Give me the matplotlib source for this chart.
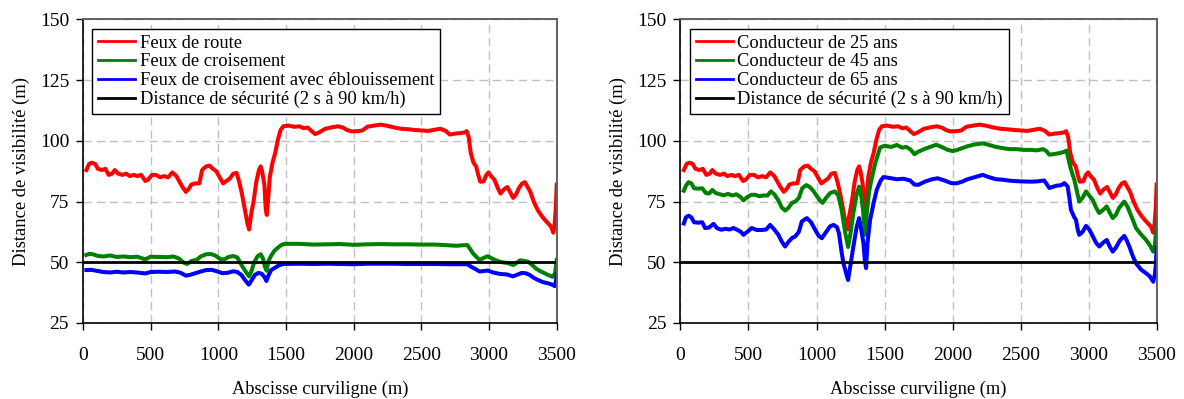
import matplotlib
matplotlib.use("Agg")
import matplotlib.pyplot as plt

# ---- data (abscisse en m, distance en m) ----
x_route = [25, 45, 65, 90, 110, 140, 165, 190, 215, 235, 260, 290, 320, 345, 375, 400, 430, 460, 480,
           510, 540, 570, 600, 630, 660, 690, 710, 735, 760, 785, 800, 830, 860, 880, 910, 935, 960,
           985, 1010, 1035, 1060, 1085, 1110, 1135, 1155, 1175, 1195, 1215, 1228, 1240, 1260, 1280,
           1300, 1313, 1325, 1340, 1350, 1358, 1368, 1380, 1400, 1420, 1440, 1460, 1480, 1520, 1560,
           1600, 1630, 1660, 1690, 1715, 1745, 1790, 1840, 1885, 1920, 1950, 1985, 2030, 2065, 2100,
           2150, 2200, 2250, 2300, 2350, 2400, 2450, 2500, 2550, 2600, 2640, 2680, 2710, 2750, 2790,
           2820, 2835, 2850, 2865, 2885, 2905, 2920, 2935, 2960, 2980, 2995, 3015, 3040, 3065, 3085,
           3110, 3135, 3155, 3178, 3200, 3220, 3245, 3265, 3285, 3305, 3330, 3360, 3390, 3415, 3440,
           3460, 3475, 3485, 3493, 3500]
feux_route = [88, 90.5, 91, 90.5, 88.5, 88, 88.5, 86, 86.5, 88, 86.5, 86, 86.5, 85.5, 86, 85.5, 86, 83.5,
              84, 86, 86, 85, 85.5, 85, 87, 85.5, 83.5, 81, 79, 80.5, 82, 82.5, 82.5, 88, 89.5, 89.8,
              88.5, 87.5, 85, 82.5, 83.5, 84.5, 86.5, 86.8, 83, 78, 72, 66, 63.5, 69, 75, 83, 88, 89.5,
              87, 82, 72, 69.5, 76, 85, 91, 95, 100.5, 104.5, 106, 106.3, 105.8, 106, 105.2, 105.5, 104,
              102.8, 103.5, 105, 105.6, 106, 105.5, 104.5, 103.9, 104, 104.3, 105.8, 106.3, 106.7, 106.2,
              105.5, 105, 104.8, 104.5, 104.3, 104.1, 104.6, 105, 104.1, 102.6, 103, 103.2, 103.5, 104,
              101.5, 95, 91, 89.5, 86, 83.2, 83.3, 86, 87, 85.5, 84, 80.5, 78.3, 80, 81, 79, 76.5, 78,
              80.5, 82.5, 83, 81, 79, 75, 71.5, 69, 67.3, 65.8, 64.5, 62.2, 66, 72, 82]

x_crois = [25, 50, 80, 110, 155, 200, 250, 300, 350, 400, 460, 500, 560, 620, 670, 710, 745, 770, 800,
           840, 870, 910, 945, 980, 1015, 1045, 1075, 1110, 1140, 1165, 1185, 1210, 1228, 1245, 1265,
           1290, 1313, 1330, 1345, 1357, 1370, 1390, 1415, 1440, 1465, 1490, 1600, 1700, 1800, 1900,
           2000, 2100, 2200, 2300, 2400, 2500, 2600, 2700, 2760, 2800, 2840, 2860, 2880, 2905, 2930,
           2960, 2990, 3020, 3050, 3080, 3110, 3140, 3160, 3180, 3205, 3230, 3260, 3290, 3320, 3350,
           3380, 3410, 3440, 3470, 3488, 3500]
feux_crois = [53, 53.5, 53.2, 52.6, 52.4, 52.8, 52.2, 52.4, 52.1, 52.3, 51.2, 52.3, 52.2, 52.1, 52.4,
              51.5, 49.8, 49.3, 50.5, 51, 52.4, 53.3, 53.4, 52.7, 51.3, 51.2, 52.2, 52.6, 52, 49.5, 47.6,
              45.5, 44.2, 46.5, 50, 52.5, 53.3, 51.5, 48, 46.5, 50.5, 52.7, 54.8, 56, 57.1, 57.6, 57.6,
              57.3, 57.4, 57.5, 57.2, 57.4, 57.5, 57.4, 57.4, 57.3, 57.3, 57.0, 56.8, 57.0, 57.1, 55.5,
              53.8, 52.3, 51, 51.8, 52.5, 51.6, 50.8, 50.2, 49.9, 49.7, 49.2, 48.9, 49.8, 50.8, 50.6,
              50.2, 48.8, 47.3, 46.3, 45.5, 44.7, 44, 45.5, 51]

x_ebl = [25, 60, 100, 150, 200, 250, 300, 350, 400, 460, 500, 560, 620, 680, 720, 760, 790, 830, 870,
         910, 950, 990, 1030, 1070, 1110, 1140, 1170, 1200, 1225, 1245, 1270, 1295, 1320, 1340, 1355,
         1370, 1390, 1420, 1450, 1480, 1600, 1700, 1800, 1900, 2000, 2100, 2200, 2300, 2400, 2500,
         2600, 2700, 2800, 2840, 2870, 2900, 2930, 2960, 2990, 3030, 3080, 3130, 3177, 3210, 3240,
         3270, 3300, 3330, 3362, 3400, 3440, 3470, 3485, 3495, 3500]
feux_ebl = [46.8, 46.9, 46.5, 46, 45.8, 46.1, 45.8, 46, 45.8, 45.4, 46, 46.1, 46, 46.2, 45.7, 44.5, 44.8,
            45.5, 46.2, 46.8, 46.9, 46.3, 45.5, 45.7, 46.3, 46, 44.8, 42.5, 40.8, 42.5, 44.8, 45.6, 45.3,
            44, 42.3, 44.5, 46.8, 47.8, 48.8, 49.3, 49.4, 49.3, 49.4, 49.3, 49.2, 49.4, 49.4, 49.4, 49.3,
            49.3, 49.3, 49.2, 49.2, 49.2, 48.1, 47.2, 46.2, 46.4, 46.6, 45.8, 45.2, 45, 44.2, 44.9, 45.6,
            45.5, 44.8, 43.6, 42.7, 41.8, 41.3, 40.7, 40.2, 42.5, 45]

x_45 = [25, 40, 60, 80, 100, 130, 160, 185, 210, 235, 260, 290, 320, 350, 380, 410, 440, 463, 490, 520,
        550, 580, 610, 640, 665, 690, 720, 745, 770, 795, 820, 845, 870, 895, 925, 950, 975, 1000, 1025,
        1045, 1070, 1100, 1135, 1160, 1185, 1210, 1232, 1250, 1271, 1295, 1313, 1330, 1342, 1352, 1359,
        1370, 1385, 1400, 1430, 1467, 1500, 1550, 1590, 1630, 1660, 1690, 1720, 1750, 1800, 1850, 1880,
        1920, 1960, 2000, 2030, 2070, 2110, 2160, 2222, 2270, 2320, 2370, 2420, 2470, 2520, 2570, 2620,
        2665, 2690, 2711, 2750, 2790, 2820, 2838, 2858, 2877, 2895, 2915, 2931, 2955, 2981, 3005, 3030,
        3055, 3078, 3105, 3133, 3155, 3177, 3200, 3225, 3262, 3285, 3300, 3325, 3348, 3385, 3422, 3450,
        3475, 3487, 3494, 3500]
cond_45 = [79.5, 81.5, 83, 82.5, 80.5, 80.3, 80.5, 78.6, 78.3, 79.8, 78.5, 78, 77.6, 78.2, 77.5, 78, 77,
           75.5, 76.8, 77.8, 77.8, 77.2, 77.5, 77.5, 79.2, 78, 75.5, 72.5, 71.3, 72.5, 74.5, 75, 76.5,
           80.5, 81.8, 81, 79.5, 77.5, 75.5, 74.5, 76.5, 78.5, 79.2, 77.5, 71.6, 62.5, 56.3, 62, 70.3, 78,
           81.2, 77, 71.5, 64, 61.3, 70.5, 78.5, 83, 90.5, 97.2, 98, 97.5, 98.3, 97.2, 97.5, 96.5, 94.5,
           95.6, 96.8, 97.8, 98.4, 97.5, 96.4, 95.8, 96.2, 97, 97.8, 98.5, 99, 98.3, 97.5, 97, 96.6, 96.6,
           96.3, 96.3, 96.1, 96.6, 95.8, 94.3, 94.6, 95, 95.5, 96, 91, 87, 84, 79, 75, 76.5, 79.2, 77.5,
           75.7, 72.5, 70.3, 71.5, 73, 70.5, 68.2, 69.5, 72.5, 75, 73, 70.9, 67.5, 64.1, 61.5, 59.2, 57,
           54.4, 57, 61.3, 67]

x_65 = [25, 40, 60, 80, 100, 130, 160, 181, 210, 243, 270, 300, 330, 360, 390, 420, 445, 463, 490, 524,
        560, 600, 630, 659, 690, 720, 745, 769, 795, 820, 843, 870, 892, 929, 960, 990, 1015, 1039, 1065,
        1100, 1125, 1150, 1165, 1185, 1198, 1215, 1232, 1250, 1271, 1295, 1313, 1330, 1345, 1355, 1364,
        1375, 1394, 1418, 1443, 1470, 1492, 1540, 1590, 1640, 1688, 1720, 1749, 1800, 1850, 1890, 1940,
        1990, 2030, 2070, 2110, 2160, 2222, 2270, 2320, 2370, 2420, 2470, 2516, 2570, 2620, 2674, 2711,
        2760, 2800, 2822, 2846, 2860, 2870, 2895, 2907, 2920, 2931, 2955, 2981, 3005, 3030, 3055, 3078,
        3105, 3133, 3155, 3177, 3200, 3230, 3262, 3280, 3299, 3325, 3348, 3385, 3422, 3450, 3475, 3487,
        3494, 3500]
cond_65 = [66, 68.5, 69.2, 68.5, 66.5, 66.3, 66.5, 64.1, 64.3, 65.8, 64, 63.4, 63.8, 63.5, 64.1, 63.3,
           62.5, 61.3, 62.5, 64.1, 63.3, 63.3, 63.5, 65.4, 63.5, 61.3, 58.5, 56.5, 58.5, 60, 60.6, 62.5,
           66.8, 68.2, 66.5, 63.4, 61, 59.9, 62, 64.8, 65.4, 64.5, 62, 54, 49.6, 46, 42.7, 49, 56.5, 64.5,
           68.2, 63, 57.9, 51, 47.6, 58, 67.5, 74, 79.9, 83.5, 85.1, 84.7, 84.2, 84.4, 83.7, 82, 81.9,
           83.3, 84.2, 84.6, 83.7, 82.6, 82.5, 83.2, 84.2, 85, 86, 85, 84.2, 84, 83.6, 83.4, 83.3, 83.2,
           83.3, 83.7, 80.6, 81.5, 81.8, 82.6, 81.2, 76, 71.6, 68.5, 67.5, 63.5, 61.3, 62.5, 65, 63.5,
           60.8, 58, 56.5, 58, 59.2, 56.5, 54.4, 56, 59, 60.9, 59, 56.5, 52.5, 49.6, 47, 45.5, 44.2, 42,
           45, 49, 56]

securite = 50
x_ticks = [0, 500, 1000, 1500, 2000, 2500, 3000, 3500]
y_ticks = [25, 50, 75, 100, 125, 150]

left_labels = ["Feux de route", "Feux de croisement",
               "Feux de croisement avec éblouissement",
               "Distance de sécurité (2 s à 90 km/h)"]
right_labels = ["Conducteur de 25 ans", "Conducteur de 45 ans",
                "Conducteur de 65 ans",
                "Distance de sécurité (2 s à 90 km/h)"]

plt.rcParams["font.family"] = ["Liberation Serif", "DejaVu Serif"]

fig = plt.figure(figsize=(11.84, 3.99), dpi=100)
ax1 = fig.add_axes([0.0701, 0.1905, 0.4001, 0.7607])
ax2 = fig.add_axes([0.5747, 0.1905, 0.4022, 0.7607])


def style_axes(ax):
    ax.set_xlim(0, 3500)
    ax.set_ylim(25, 150)
    ax.set_xticks(x_ticks)
    ax.set_yticks(y_ticks)
    ax.grid(True, color="#c0c0c0", lw=1.0, ls=(0, (6, 3.5)))
    ax.set_axisbelow(True)
    ax.tick_params(axis="both", labelsize=14, length=5, width=1, color="black")
    ax.tick_params(axis="x", pad=12)
    ax.tick_params(axis="y", pad=5)
    ax.set_xlabel("Abscisse curviligne (m)", fontsize=13.2, labelpad=12)
    ax.set_ylabel("Distance de visibilité (m)", fontsize=13.4, labelpad=7)
    for side in ("left", "bottom"):
        ax.spines[side].set_color("black")
        ax.spines[side].set_linewidth(1.2)
    for side in ("top", "right"):
        ax.spines[side].set_color("#606060")
        ax.spines[side].set_linewidth(1.4)


def add_legend(ax, labels):
    leg = ax.legend(labels, loc="upper left", fontsize=13.3, frameon=True, fancybox=False,
                    edgecolor="black", framealpha=1, borderpad=0.32, labelspacing=0.1,
                    handlelength=2.0, handletextpad=0.25, borderaxespad=0.5)
    leg.get_frame().set_linewidth(1.0)
    for h in leg.get_lines():
        h.set_linewidth(2.0)


ax1.plot(x_route, feux_route, color="#ff0000", lw=2.9)
ax1.plot(x_crois, feux_crois, color="#008000", lw=2.9)
ax1.plot(x_ebl, feux_ebl, color="#0000ff", lw=2.9)
ax1.axhline(securite, color="black", lw=2.0)
style_axes(ax1)
add_legend(ax1, left_labels)

ax2.plot(x_route, feux_route, color="#ff0000", lw=2.9)
ax2.plot(x_45, cond_45, color="#008000", lw=2.9)
ax2.plot(x_65, cond_65, color="#0000ff", lw=2.9)
ax2.axhline(securite, color="black", lw=2.0)
style_axes(ax2)
add_legend(ax2, right_labels)

fig.savefig("out.png", dpi=100)
